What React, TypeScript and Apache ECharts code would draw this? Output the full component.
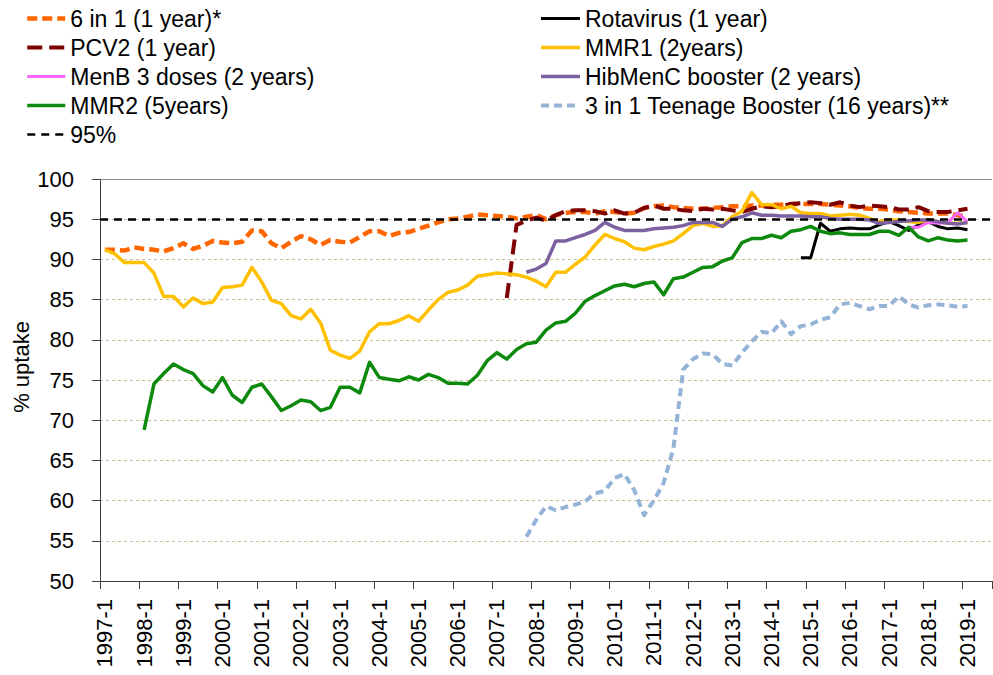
import React, { useEffect, useRef } from "react";
import * as echarts from "echarts";

const FONT = '"Liberation Sans", Arial, sans-serif';

// Quarterly categories 1997-1 ... 2019-3
const FIRST_YEAR = 1997;
const LAST_YEAR = 2019;
const LAST_QUARTER_OF_LAST_YEAR = 3;
const categories: string[] = [];
for (let y = FIRST_YEAR; y <= LAST_YEAR; y++) {
  for (let q = 1; q <= 4; q++) {
    if (y === LAST_YEAR && q > LAST_QUARTER_OF_LAST_YEAR) break;
    categories.push(`${y}-${q}`);
  }
}

const Y_TICKS = [50, 55, 60, 65, 70, 75, 80, 85, 90, 95, 100];
const TARGET = 95;

const sixInOneStart = "1997-1";
const sixInOne = [
  91.2, 91.2, 91.1, 91.5, 91.3, 91.2, 91.0, 91.4, 92.0, 91.3,
  91.7, 92.3, 92.1, 92.0, 92.2, 93.6, 93.5, 92.0, 91.4, 92.2,
  92.9, 92.5, 91.8, 92.4, 92.2, 92.1, 92.8, 93.5, 93.5, 92.9,
  93.3, 93.4, 93.8, 94.2, 94.6, 95.0, 95.1, 95.3, 95.6, 95.5,
  95.4, 95.3, 95.1, 95.3, 95.5, 95.0, 95.5, 95.8, 95.9, 95.9,
  95.7, 96.0, 95.9, 95.7, 95.8, 96.4, 96.6, 96.7, 96.5, 96.4,
  96.3, 96.3, 96.4, 96.5, 96.6, 96.6, 96.7, 96.7, 96.8, 96.8,
  96.9, 96.9, 96.9, 96.9, 96.8, 96.7, 96.6, 96.4, 96.3, 96.3,
  96.2, 96.0, 95.9, 95.8, 95.7, 95.7, 95.7, 95.5, 95.3,
];

const rotavirusStart = "2014-4";
const rotavirus = [
  90.2, 90.2, 94.5, 93.5, 93.8, 93.9, 93.8, 93.8, 94.3, 94.7,
  94.2, 93.6, 94.3, 94.7, 94.1, 93.8, 93.9, 93.7,
];

const pcv2Start = "2007-2";
const pcv2 = [
  85.2, 94.3, 94.8, 95.2, 94.8, 95.5, 96.0, 96.1, 96.1, 96.0,
  95.7, 96.1, 95.7, 95.8, 96.4, 96.7, 96.3, 96.3, 96.1, 96.0,
  96.3, 96.2, 96.3, 96.1, 95.9, 96.3, 96.6, 96.5, 96.6, 96.9,
  97.0, 97.1, 97.0, 96.8, 97.1, 96.7, 96.5, 96.7, 96.6, 96.5,
  96.2, 96.2, 96.5, 96.0, 95.9, 95.9, 96.1, 96.3,
];

const mmr1Start = "1997-1";
const mmr1 = [
  91.2, 90.7, 89.6, 89.6, 89.6, 88.3, 85.4, 85.4, 84.1, 85.2,
  84.5, 84.7, 86.5, 86.6, 86.8, 89.0, 87.2, 84.9, 84.5, 83.0,
  82.6, 83.8, 82.1, 78.7, 78.1, 77.7, 78.6, 81.0, 82.0, 82.0,
  82.4, 83.0, 82.3, 83.7, 85.0, 85.9, 86.2, 86.8, 87.9, 88.1,
  88.3, 88.2, 88.1, 87.8, 87.3, 86.6, 88.4, 88.4, 89.4, 90.3,
  91.8, 93.1, 92.6, 92.2, 91.4, 91.2, 91.6, 91.9, 92.3, 93.2,
  94.2, 94.5, 94.1, 94.2, 95.3, 96.0, 98.3, 96.8, 96.8, 96.3,
  96.6, 95.8, 95.7, 95.7, 95.4, 95.5, 95.6, 95.5, 95.1, 94.7,
  94.9, 94.9, 94.7, 94.6, 94.9, 94.7, 94.5, 94.5, 94.6,
];

const menBStart = "2017-3";
const menB = [94.0, 94.0, 94.6, 94.5, 94.6, 95.8, 94.7];

const hibMenCStart = "2007-4";
const hibMenC = [
  88.4, 88.8, 89.5, 92.3, 92.3, 92.7, 93.1, 93.6, 94.6, 94.0,
  93.6, 93.6, 93.6, 93.8, 93.9, 94.0, 94.2, 94.6, 94.6, 94.6,
  94.1, 95.0, 95.3, 95.8, 95.5, 95.5, 95.4, 95.4, 95.4, 95.3,
  95.3, 95.1, 95.0, 95.0, 95.0, 94.9, 94.5, 94.6, 94.7, 94.8,
  94.9, 94.9, 94.7, 94.5, 94.4, 94.6,
];

const mmr2Start = "1998-1";
const mmr2 = [
  68.8, 74.5, 75.8, 77.0, 76.3, 75.8, 74.3, 73.5, 75.3, 73.1,
  72.2, 74.1, 74.5, 72.9, 71.2, 71.8, 72.5, 72.3, 71.2, 71.6,
  74.1, 74.1, 73.4, 77.2, 75.3, 75.1, 74.9, 75.4, 75.0, 75.7,
  75.3, 74.6, 74.6, 74.5, 75.6, 77.4, 78.4, 77.6, 78.8, 79.5,
  79.7, 81.2, 82.1, 82.3, 83.3, 84.8, 85.5, 86.1, 86.7, 86.9,
  86.6, 87.0, 87.2, 85.6, 87.6, 87.8, 88.4, 89.0, 89.1, 89.8,
  90.2, 92.1, 92.6, 92.6, 93.0, 92.7, 93.5, 93.7, 94.1, 93.5,
  93.2, 93.3, 93.1, 93.1, 93.1, 93.5, 93.5, 93.0, 94.0, 92.8,
  92.3, 92.7, 92.4, 92.3, 92.4,
];

const teenStart = "2007-4";
const teen = [
  55.5, 57.6, 59.3, 58.8, 59.2, 59.5, 59.9, 60.9, 61.2, 62.8,
  63.3, 61.3, 58.2, 60.0, 62.2, 66.5, 76.3, 77.6, 78.3, 78.2,
  77.0, 76.8, 78.4, 79.8, 81.0, 80.8, 82.3, 80.7, 81.7, 81.9,
  82.5, 82.8, 84.4, 84.6, 84.2, 83.8, 84.2, 84.2, 85.4, 84.4,
  84.0, 84.3, 84.4, 84.3, 84.1, 84.2,
];

const toPairs = (start: string, values: number[]) => {
  const s = categories.indexOf(start);
  return values.map((v, k) => [categories[s + k], v]);
};

type Def = {
  name: string;
  start: string;
  values: number[];
  color: string;
  width: number;
  type: any;
};

const defs: Def[] = [
  { name: "6 in 1 (1 year)*", start: sixInOneStart, values: sixInOne, color: "#ff6600", width: 4.5, type: [10, 5] },
  { name: "Rotavirus (1 year)", start: rotavirusStart, values: rotavirus, color: "#000000", width: 3, type: "solid" },
  { name: "PCV2 (1 year)", start: pcv2Start, values: pcv2, color: "#7f0000", width: 4, type: [15, 7] },
  { name: "MMR1 (2years)", start: mmr1Start, values: mmr1, color: "#ffc000", width: 3.5, type: "solid" },
  { name: "MenB 3 doses (2 years)", start: menBStart, values: menB, color: "#ff66ff", width: 3, type: "solid" },
  { name: "HibMenC booster (2 years)", start: hibMenCStart, values: hibMenC, color: "#7d60a0", width: 3.5, type: "solid" },
  { name: "MMR2 (5years)", start: mmr2Start, values: mmr2, color: "#0d8a0d", width: 3.5, type: "solid" },
  { name: "3 in 1 Teenage Booster (16 years)**", start: teenStart, values: teen, color: "#95b3d7", width: 4, type: [8, 5] },
];

export default function App() {
  const ref = useRef<HTMLDivElement>(null);
  useEffect(() => {
    if (!ref.current) return;
    const chart = echarts.init(ref.current, null, { renderer: "svg" });
    const series: any[] = defs.map((d) => ({
      name: d.name,
      type: "line",
      data: toPairs(d.start, d.values),
      symbol: "none",
      showSymbol: false,
      connectNulls: false,
      lineStyle: { color: d.color, width: d.width, type: d.type, cap: "butt", join: "round" },
      itemStyle: { color: d.color },
      emphasis: { disabled: true },
      silent: true,
    }));
    series.push({
      name: "95%",
      type: "line",
      data: [],
      symbol: "none",
      showSymbol: false,
      lineStyle: { color: "#000000", width: 2.5, type: [8, 6] },
      itemStyle: { color: "#000000" },
      emphasis: { disabled: true },
      silent: true,
      markLine: {
        silent: true,
        symbol: ["none", "none"],
        label: { show: false },
        emphasis: { disabled: true },
        data: [
          { yAxis: TARGET, lineStyle: { color: "#000000", width: 2.5, type: [8, 6] } },
          { yAxis: Y_TICKS[Y_TICKS.length - 1], lineStyle: { color: "#8c8c8c", width: 1, type: "solid" } },
        ],
      },
    });

    const legendCommon = {
      orient: "vertical",
      top: 7,
      padding: 0,
      itemGap: 6,
      itemHeight: 14,
      selectedMode: false,
      itemStyle: { opacity: 0 },
      lineStyle: { width: "inherit" },
      textStyle: { fontFamily: FONT, fontSize: 23, color: "#000", lineHeight: 23 },
    };

    chart.setOption({
      animation: false,
      backgroundColor: "#ffffff",
      textStyle: { fontFamily: FONT },
      legend: [
        {
          ...legendCommon,
          left: 25,
          itemWidth: 38,
          data: ["6 in 1 (1 year)*", "PCV2 (1 year)", "MenB 3 doses (2 years)", "MMR2 (5years)", "95%"],
        },
        {
          ...legendCommon,
          left: 539,
          itemWidth: 39,
          data: ["Rotavirus (1 year)", "MMR1 (2years)", "HibMenC booster (2 years)", "3 in 1 Teenage Booster (16 years)**"],
        },
      ],
      grid: { left: 100, right: 1, top: 179, bottom: 94, containLabel: false, outerBoundsMode: "none" },
      xAxis: {
        type: "category",
        data: categories,
        boundaryGap: true,
        axisLine: { show: true, lineStyle: { color: "#404040", width: 1 } },
        axisTick: { show: true, interval: 3, length: 8, alignWithLabel: false, lineStyle: { color: "#404040" } },
        axisLabel: { interval: 3, rotate: 90, fontSize: 22, fontFamily: FONT, color: "#000", margin: 18 },
        splitLine: { show: false },
      },
      yAxis: {
        type: "value",
        min: Y_TICKS[0],
        max: Y_TICKS[Y_TICKS.length - 1],
        interval: 5,
        axisLine: { show: true, lineStyle: { color: "#404040", width: 1 } },
        axisTick: { show: true, length: 8, lineStyle: { color: "#404040" } },
        axisLabel: { fontSize: 22, fontFamily: FONT, color: "#000", margin: 26 },
        splitLine: { show: true, lineStyle: { color: "#cdbf94", type: [3, 3], width: 1 } },
      },
      graphic: [
        {
          type: "text",
          x: 21,
          y: 367,
          rotation: Math.PI / 2,
          style: {
            text: "% uptake",
            fontFamily: FONT,
            fontSize: 22,
            fill: "#000",
            align: "center",
            verticalAlign: "middle",
          },
        },
      ],
      series,
    });
    return () => chart.dispose();
  }, []);
  return <div ref={ref} style={{ position: "absolute", left: 0, top: 0, width: 993, height: 675 }} />;
}
